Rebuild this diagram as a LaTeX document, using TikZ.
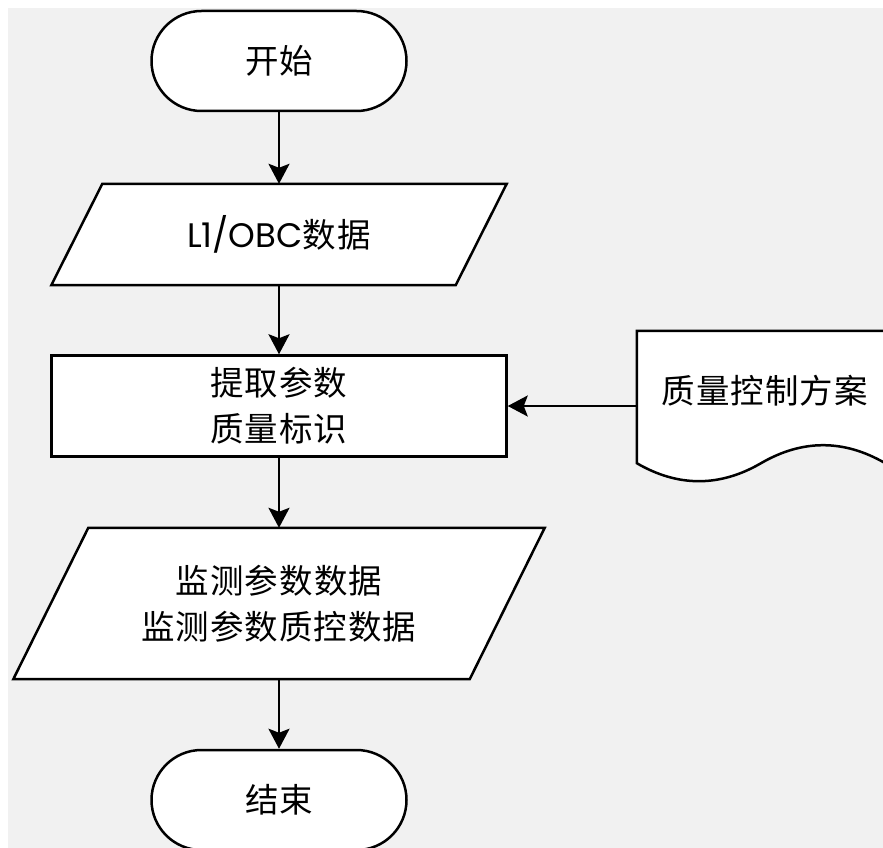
\documentclass[tikz,border=0pt]{standalone}
\usepackage{fontspec}
\setmainfont{Noto Sans CJK SC}[LetterSpace=3]
\newfontfamily\latf{Poppins}
\usetikzlibrary{arrows.meta,backgrounds}
\definecolor{bggray}{HTML}{F1F1F1}
\begin{document}
\begin{tikzpicture}[x=1pt,y=-1pt,
  txt/.style={font=\fontsize{33.5}{46}\selectfont, align=center, text=black, inner sep=0pt},
  outline/.style={draw=black, line width=2.5pt, fill=white, line join=miter},
  box/.style={txt, outline},
  term/.style={box, rounded corners=50pt, minimum width=255pt, minimum height=100pt},
  arr/.style={line width=2.5pt, -{Stealth[length=20pt,width=21pt,inset=4pt]}}
]
\useasboundingbox (0,0) rectangle (883,848);
\clip (0,0) rectangle (883,848);

% nodes
\node[term] (start) at (279,61) {开始};
\node[txt, minimum width=455pt, minimum height=101pt] (in1) at (279,234.5) {{\latf\fontsize{34}{46}\selectfont L1/OBC}数据};
\node[box, minimum width=455pt, minimum height=101pt] (proc) at (279,406) {提取参数\\质量标识};
\node[txt, minimum width=531pt, minimum height=151pt] (out) at (279,603.5) {监测参数数据\\监测参数质控数据};
\node[term] (end) at (279,800) {结束};
\node[txt, minimum width=248pt, minimum height=150pt] (doc) at (765,406) {\raisebox{15pt}[\height][\depth]{质量控制方案}};

\begin{scope}[on background layer]
  \fill[white] (0,0) rectangle (883,848);
  \fill[bggray] (8,8) rectangle (883,848);
  % input parallelogram
  \draw[outline] ([xshift=51pt]in1.north west) -- (in1.north east)
     -- ([xshift=-51pt]in1.south east) -- (in1.south west) -- cycle;
  % output parallelogram
  \draw[outline] ([xshift=75pt]out.north west) -- (out.north east)
     -- ([xshift=-75pt]out.south east) -- (out.south west) -- cycle;
  % document shape
  \draw[outline] ([xshift=-4pt]doc.north west) -- ([xshift=-4pt]doc.north east) -- ([xshift=-4pt,yshift=18pt]doc.south east)
     .. controls ([xshift=-45.3pt,yshift=42pt]doc.south east) and ([xshift=37.3pt,yshift=42pt]doc.south)
     .. ([xshift=-4pt,yshift=18pt]doc.south)
     .. controls ([xshift=-45.3pt,yshift=-6pt]doc.south) and ([xshift=37.3pt,yshift=-6pt]doc.south west)
     .. ([xshift=-4pt,yshift=18pt]doc.south west) -- cycle;
\end{scope}

% connectors
\draw[arr] ([xshift=-4pt]doc.west) -- (proc.east);
\draw[arr] (start.south) -- (in1.north);
\draw[arr] (in1.south) -- (proc.north);
\draw[arr] (proc.south) -- (out.north);
\draw[arr] (out.south) -- (end.north);
\end{tikzpicture}
\end{document}
